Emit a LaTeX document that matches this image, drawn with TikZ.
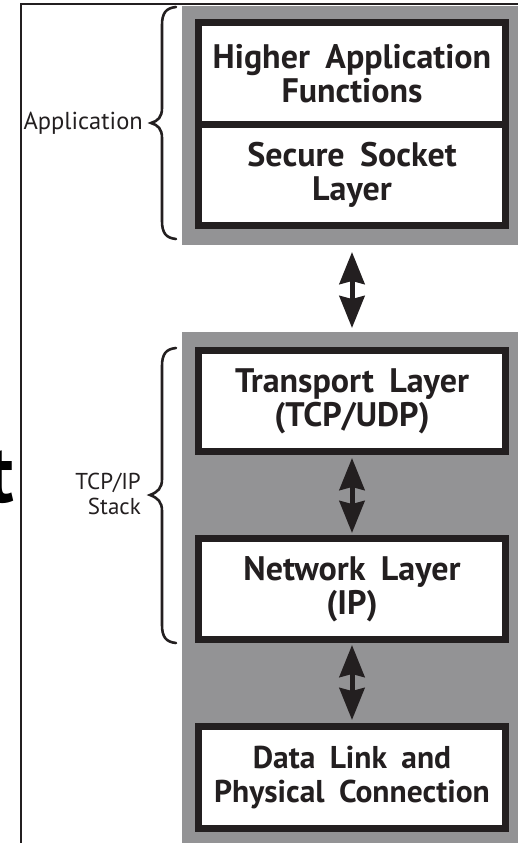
\documentclass[tikz,border=0pt]{standalone}
\usepackage{fontspec}
\setmainfont{PT Sans}
\newfontfamily\layerfont[WordSpace=1.8]{PT Sans}
\usetikzlibrary{arrows.meta}
\definecolor{panelgray}{HTML}{939395}
\definecolor{ink}{HTML}{231F20}
\tikzset{
  panel/.style={fill=panelgray, draw=none, inner sep=0pt, outer sep=0pt, anchor=north west},
  layer/.style={draw=ink, line width=7pt, fill=white, minimum width=307pt,
    inner sep=0pt, align=center, text=ink,
    font=\layerfont\fontsize{34}{34}\selectfont\bfseries},
  link/.style={draw=ink, line width=5pt,
    {Stealth[length=32pt,width=25pt,inset=3pt]}-{Stealth[length=32pt,width=25pt,inset=3pt]}},
  bracket/.style={draw=ink, line width=2.6pt, line cap=round},
  sidelabel/.style={text=ink, inner sep=0pt, align=right}
}
\begin{document}
\begin{tikzpicture}[x=1pt, y=-1pt]
\useasboundingbox (0,0) rectangle (518,843);
\fill[white] (0,0) rectangle (518,843);

% grey backing panels
\node[panel, minimum width=336pt, minimum height=239pt] (apppanel) at (182,6) {};
\node[panel, minimum width=336pt, minimum height=511pt] (stackpanel) at (182,332) {};

% frame lines
\draw[ink, line width=1.6pt] (21,843) -- (21,4) -- (518,4);

% layer boxes
\node[layer, minimum height=101.5pt] (higher) at (352,73.25) {Higher Application\\Functions};
\node[layer, minimum height=101.5pt] (ssl) at (352,174.75) {Secure Socket\\Layer};
\node[layer, minimum height=101pt] (transport) at (352,401) {Transport Layer\\(TCP/UDP)};
\node[layer, minimum height=101pt] (network) at (352,589) {Network Layer\\(IP)};
\node[layer, minimum height=102pt, font=\layerfont\fontsize{31.5}{34}\selectfont\bfseries]
  (datalink) at (352,777.5) {Data Link and\\Physical Connection};

% two-way links between layers
\draw[link, shorten <=7pt, shorten >=4pt] (apppanel.south -| ssl.south) -- (stackpanel.north -| transport.north);
\draw[link, shorten <=3pt, shorten >=2pt] (transport.south) -- (network.north);
\draw[link, shorten <=2pt, shorten >=3pt] (network.south) -- (datalink.north);

% braces
\draw[bracket] (176,7) .. controls (166,8) and (162,13) .. (162,25) -- (162,108)
  .. controls (162,117) and (158,121) .. (151,123)
  .. controls (158,125) and (162,129) .. (162,138) -- (162,221)
  .. controls (162,233) and (166,238) .. (176,239);
\draw[bracket] (176,348) .. controls (166,349) and (162,354) .. (162,366) -- (162,479)
  .. controls (162,488) and (158,492) .. (150,495)
  .. controls (158,498) and (162,502) .. (162,511) -- (162,625)
  .. controls (162,637) and (166,642) .. (176,643);

% brace labels
\node[sidelabel, anchor=east, font=\fontsize{24.5}{25}\selectfont] (applabel) at (143,123) {Application};
\node[sidelabel, anchor=east, font=\fontsize{23}{25}\selectfont] (stacklabel) at (141,494) {TCP/IP\\Stack};

% large letter at the left edge
\node[text=black, inner sep=0pt, anchor=base east,
  font=\fontsize{82}{82}\selectfont\bfseries] (bigt) at (14,502) {t};
\end{tikzpicture}
\end{document}
